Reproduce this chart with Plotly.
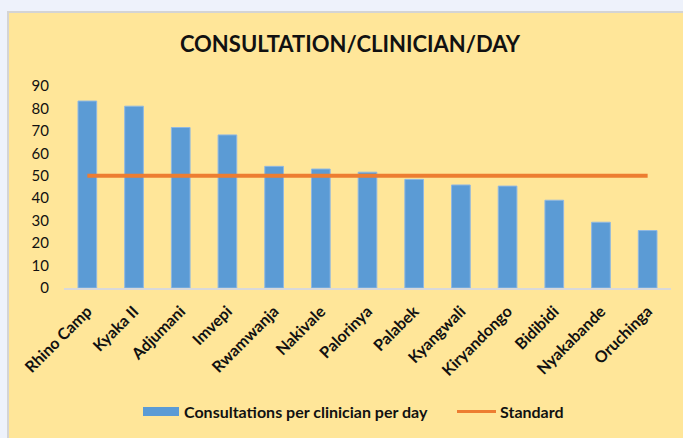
import plotly.graph_objects as go

categories = ["Rhino Camp", "Kyaka II", "Adjumani", "Imvepi", "Rwamwanja", "Nakivale",
              "Palorinya", "Palabek", "Kyangwali", "Kiryandongo", "Bidibidi", "Nyakabande", "Oruchinga"]
consultations = [83.3, 81.0, 71.5, 68.2, 54.2, 53.0, 51.6, 48.4, 45.9, 45.4, 39.1, 29.3, 25.6]
standard = [50] * len(categories)
y_ticks = [0, 10, 20, 30, 40, 50, 60, 70, 80, 90]

W, H = 683, 438
ML, MR, MT, MB = 64, 12, 86, 150
PW, PH = W - ML - MR, H - MT - MB

def px(x):
    return (x - ML) / PW

def py(y):
    return (H - MB - y) / PH

FONT = "Lato, 'Open Sans', sans-serif"
BLUE = "#5B9BD5"
ORANGE = "#ED7D31"

fig = go.Figure()
fig.add_trace(go.Bar(x=categories, y=consultations, name="Consultations per clinician per day",
                     marker=dict(color=BLUE, line=dict(color="#8FB8E3", width=1)),
                     showlegend=False))
fig.add_trace(go.Scatter(x=categories, y=standard, name="Standard", mode="lines",
                         line=dict(color=ORANGE, width=4), showlegend=False))

shapes = [
    dict(type="rect", xref="paper", yref="paper", x0=px(7), x1=px(700), y0=py(460), y1=py(11),
         fillcolor="#D4D4D4", line=dict(width=0), layer="below"),
    dict(type="rect", xref="paper", yref="paper", x0=px(9), x1=px(700), y0=py(460), y1=py(13),
         fillcolor="#FFE699", line=dict(width=0), layer="below"),
    dict(type="rect", xref="paper", yref="paper", x0=px(143), x1=px(179), y0=py(416), y1=py(407),
         fillcolor=BLUE, line=dict(width=0)),
    dict(type="line", xref="paper", yref="paper", x0=px(457), x1=px(496), y0=py(411.5), y1=py(411.5),
         line=dict(color=ORANGE, width=3)),
]

annotations = [
    dict(text="<b>Consultations per clinician per day</b>", xref="paper", yref="paper",
         x=px(182), y=py(411.5), xanchor="left", yanchor="middle", showarrow=False,
         font=dict(family=FONT, size=16, color="#111")),
    dict(text="<b>Standard</b>", xref="paper", yref="paper",
         x=px(498), y=py(411.5), xanchor="left", yanchor="middle", showarrow=False,
         font=dict(family=FONT, size=16, color="#111")),
]

fig.update_layout(
    width=W, height=H,
    margin=dict(l=ML, r=MR, t=MT, b=MB, pad=0),
    paper_bgcolor="#EEF2FB",
    plot_bgcolor="rgba(0,0,0,0)",
    title=dict(text="<b>CONSULTATION/CLINICIAN/DAY</b>", x=350 / W, xanchor="center",
               y=1 - 44 / H, yanchor="middle", yref="container",
               font=dict(family=FONT, size=22, color="#111")),
    bargap=0.6,
    shapes=shapes,
    annotations=annotations,
    xaxis=dict(showgrid=False, showline=True, linecolor="#D9D9D9", linewidth=1.5,
               tickangle=-45, ticks="", ticklabelstandoff=6,
               tickfont=dict(family=FONT, size=16, color="#111"),
               tickprefix="<b>", ticksuffix="</b>", zeroline=False),
    yaxis=dict(range=[0, 90], tickvals=y_ticks, showgrid=False, zeroline=False, showline=False,
               ticks="", ticklabelstandoff=14,
               tickfont=dict(family=FONT, size=15, color="#111"),
               tickprefix="<b>", ticksuffix="</b>"),
)

fig.write_html("out.html", config={"displayModeBar": False},
               post_script="document.body.style.margin='0';")
